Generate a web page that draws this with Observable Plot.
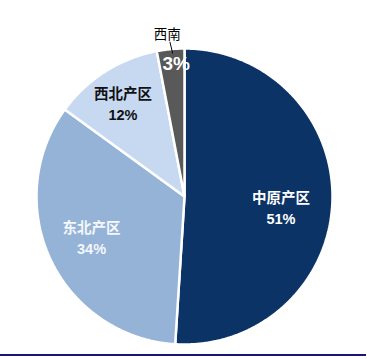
<!DOCTYPE html>
<html><head><meta charset="utf-8">
<script src="https://cdn.jsdelivr.net/npm/d3@7"></script>
<script src="https://cdn.jsdelivr.net/npm/@observablehq/plot@0.6"></script>
<style>
body{margin:0;background:#fff}
#chart{width:367px;height:354px}
.rule{height:2px;background:#16167a;width:366px}
</style>
</head><body><div id="chart"></div><div class="rule"></div>
<script>
const regions = ["中原产区", "东北产区", "西北产区", "西南"];
const shares = [51, 34, 12, 3];
const pctLabels = ["51%", "34%", "12%", "3%"];

// styling
const colors = ["#0b3366", "#95b3d7", "#c6d9f1", "#595959"];
const textColors = ["#ffffff", "#f4f7fb", "#111111", "#ffffff"];
// label placement: radius fraction and angle shift (degrees) from slice mid-angle
const placement = [[0.655, 4.2], [0.684, 1.9], [0.759, -0.8], [0.901, 1.8]];
const FONT = "'Liberation Sans', Arial, 'Noto Sans CJK SC', sans-serif";

const pie = d3.pie().sort(null).value(d => d)(shares);

const pts = [];
pie.forEach((s, i) => {
  pts.push({region: regions[i], x: 0, y: 0});
  const n = Math.max(4, Math.ceil((s.endAngle - s.startAngle) / (Math.PI / 360)));
  for (let k = 0; k <= n; k++) {
    const a = s.startAngle + (s.endAngle - s.startAngle) * k / n;
    pts.push({region: regions[i], x: Math.sin(a), y: Math.cos(a)});
  }
});

const labels = pie.map((s, i) => {
  const [r, da] = placement[i];
  const a = (s.startAngle + s.endAngle) / 2 + da * Math.PI / 180;
  return {i, x: r * Math.sin(a), y: r * Math.cos(a),
    text: i < 3 ? regions[i] + "\n" + pctLabels[i] : pctLabels[i]};
});

const s3 = pie[3];
const mid3 = (s3.startAngle + s3.endAngle) / 2;
const lead = [{x1: 1.05 * Math.sin(mid3), y1: 1.05 * Math.cos(mid3), x2: 0.97 * Math.sin(mid3 + 0.012), y2: 0.97 * Math.cos(mid3 + 0.012)}];
const outerName = [{x: 1.10 * Math.sin(mid3 - 0.012), y: 1.10 * Math.cos(mid3 - 0.012), text: regions[3]}];

const chart = Plot.plot({
  width: 367,
  height: 354,
  marginLeft: 36, marginRight: 35, marginTop: 48, marginBottom: 10,
  x: {domain: [-1, 1], axis: null},
  y: {domain: [-1, 1], axis: null},
  style: {fontFamily: FONT, background: "#fff"},
  marks: [
    ...regions.map((r, i) => Plot.line(pts.filter(d => d.region === r), {
      x: "x", y: "y", fill: colors[i], stroke: "#fff", strokeWidth: 2.5, curve: "linear-closed", strokeLinejoin: "miter"
    })),
    Plot.text(labels.filter(d => d.i < 3), {
      x: "x", y: "y", text: "text", fill: d => textColors[d.i], fontWeight: "bold", fontSize: 14.5, lineHeight: 1.5
    }),
    Plot.text(labels.filter(d => d.i === 3), {
      x: "x", y: "y", text: "text", fill: textColors[3], fontWeight: "bold", fontSize: 19
    }),
    Plot.link(lead, {x1: "x1", y1: "y1", x2: "x2", y2: "y2", stroke: "#000", strokeWidth: 1}),
    Plot.text(outerName, {x: "x", y: "y", text: "text", fill: "#000", fontSize: 13.5, fontFamily: "'Noto Sans CJK SC', sans-serif"})
  ]
});
document.getElementById("chart").appendChild(chart);
</script>
</body></html>
